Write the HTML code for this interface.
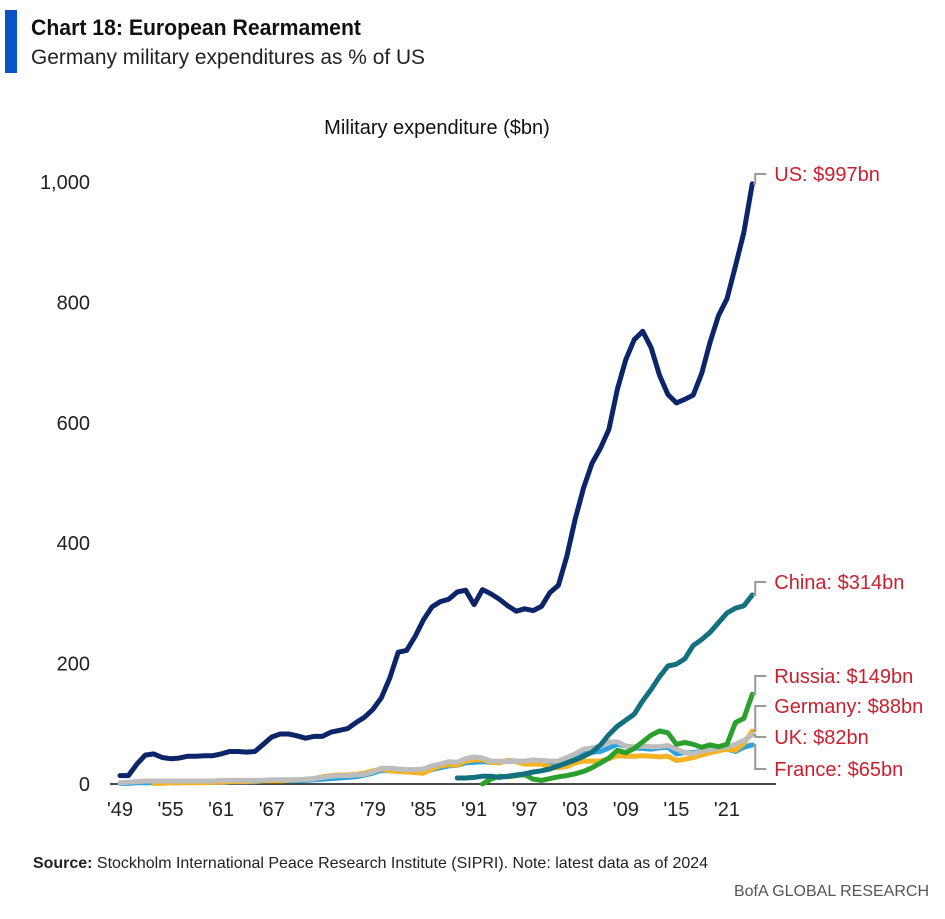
<!DOCTYPE html>
<html><head><meta charset="utf-8"><style>
body{margin:0;background:#fff;width:945px;height:914px;overflow:hidden;font-family:"Liberation Sans Narrow","Liberation Sans",sans-serif}
svg text{font-family:"Liberation Sans Narrow","Liberation Sans",sans-serif}
</style></head><body>
<svg id="c" width="945" height="914">
<rect x="5" y="10" width="12" height="63" fill="#0a53c2"/>
<text x="31" y="35" font-size="22" font-weight="bold" fill="#111" textLength="330" lengthAdjust="spacingAndGlyphs">Chart 18: European Rearmament</text>
<text x="31" y="64" font-size="21" fill="#222" textLength="394" lengthAdjust="spacingAndGlyphs">Germany military expenditures as % of US</text>
<text x="437" y="134" font-size="20" fill="#111" text-anchor="middle">Military expenditure ($bn)</text>
<text x="33" y="868" font-size="16" fill="#222" textLength="675" lengthAdjust="spacingAndGlyphs"><tspan font-weight="bold">Source:</tspan> Stockholm International Peace Research Institute (SIPRI). Note: latest data as of 2024</text>
<text x="929" y="896" font-size="16" fill="#555" text-anchor="end">BofA GLOBAL RESEARCH</text>
<g id="g"></g>
</svg>
<script>
const startYear=1949;
const yTicks=[0,200,400,600,800,1000];
const yTickLabels=["0","200","400","600","800","1,000"];
const xTickYears=[1949,1955,1961,1967,1973,1979,1985,1991,1997,2003,2009,2015,2021];
const xTickLabels=["'49","'55","'61","'67","'73","'79","'85","'91","'97","'03","'09","'15","'21"];
const usData=[14,14,33,48,50,44,42,43,46,46,47,47,50,54,54,53,54,66,78,83,83,80,76,79,79,86,89,92,102,111,124,143,176,219,222,245,273,294,303,307,319,322,298,323,316,307,296,287,291,288,295,318,330,378,440,492,533,558,589,656,705,738,752,725,679,647,633,639,646,682,734,778,806,860,916,997];
const chinaData=[null,null,null,null,null,null,null,null,null,null,null,null,null,null,null,null,null,null,null,null,null,null,null,null,null,null,null,null,null,null,null,null,null,null,null,null,null,null,null,null,10,10,11,13,13,11,13,15,17,20,22,25,30,35,40,46,53,65,82,96,106,116,138,157,178,196,199,208,230,240,252,268,284,292,296,314];
const russiaData=[null,null,null,null,null,null,null,null,null,null,null,null,null,null,null,null,null,null,null,null,null,null,null,null,null,null,null,null,null,null,null,null,null,null,null,null,null,null,null,null,null,null,null,0,8,13,12,14,16,8,6,9,12,14,17,21,27,35,43,56,52,59,70,81,88,85,66,69,66,61,65,62,66,102,109,149];
const franceData=[1,1,2,2,2,2,2,2,3,3,3,3,3,4,4,4,4,5,5,5,5,5,6,7,8,9,10,11,12,15,18,23,22,21,20,20,20,24,27,30,31,35,36,37,36,36,39,38,36,35,35,34,33,36,45,52,53,54,60,66,63,60,59,58,60,61,50,52,52,55,56,56,58,54,61,65];
const germanyData=[null,null,null,null,1,1,2,2,2,2,2,3,3,4,4,4,5,5,5,5,6,7,8,9,12,14,15,15,16,18,22,25,22,21,20,19,18,25,30,32,31,38,40,40,36,35,39,37,33,33,33,28,27,29,35,38,38,38,42,47,46,46,47,46,45,46,39,41,44,48,52,55,58,56,67,88];
const ukData=[2,3,4,5,5,5,5,5,5,5,5,5,6,6,6,6,6,6,7,7,7,7,8,9,11,13,14,14,15,16,20,26,26,25,24,24,25,30,33,37,36,42,45,43,38,38,37,38,38,40,39,38,38,44,50,58,60,63,70,70,63,62,63,62,62,64,58,52,50,55,57,60,62,66,72,82];
const labelTexts=["US: $997bn","China: $314bn","Russia: $149bn","Germany: $88bn","UK: $82bn","France: $65bn"];

const X=yr=>120+(yr-1949)*8.43;
const Y=v=>784-v*0.602;
const NS="http://www.w3.org/2000/svg";
const g=document.getElementById('g');
function el(t,a){const e=document.createElementNS(NS,t);for(const k in a)e.setAttribute(k,a[k]);g.appendChild(e);return e;}
yTicks.forEach((v,i)=>{const t=el('text',{x:90,y:Y(v)+7,'font-size':20,fill:'#222','text-anchor':'end'});t.textContent=yTickLabels[i];

});
xTickYears.forEach((yr,i)=>{const t=el('text',{x:X(yr),y:816,'font-size':20,fill:'#222','text-anchor':'middle'});t.textContent=xTickLabels[i];

});
const ax=el('line',{x1:110,x2:776,y1:784,y2:784,stroke:'#111','stroke-width':1.5});


function path(d){let s='',pen=false;d.forEach((v,i)=>{if(v==null){pen=false;return;}s+=(pen?'L':'M')+X(startYear+i).toFixed(1)+','+Y(v).toFixed(1);pen=true;});return s;}
const series=[[franceData,'#2aa3e0','series-france'],[germanyData,'#f5b223','series-germany'],[ukData,'#bdbdbd','series-uk'],[russiaData,'#2ca02c','series-russia'],[chinaData,'#12707f','series-china'],[usData,'#0c2468','series-us']];
series.forEach(s=>{const p=el('path',{d:path(s[0]),fill:'none',stroke:s[1],'stroke-width':5,'stroke-linejoin':'round','stroke-linecap':'round'});

});
const labelYs=[174,582,676,706,737,769];
const ends=[usData,chinaData,russiaData,germanyData,ukData,franceData];
ends.forEach((d,i)=>{const v=d[d.length-1];const ex=X(2024),ey=Y(v);
const c=el('path',{d:`M${ex+1},${ey} L${ex+3},${ey} L${ex+3},${labelYs[i]} L${ex+14},${labelYs[i]}`,fill:'none',stroke:'#999','stroke-width':2});


const t=el('text',{x:ex+22,y:labelYs[i]+7,'font-size':20,fill:'#c8202e'});t.textContent=labelTexts[i];

});
</script>
</body></html>
